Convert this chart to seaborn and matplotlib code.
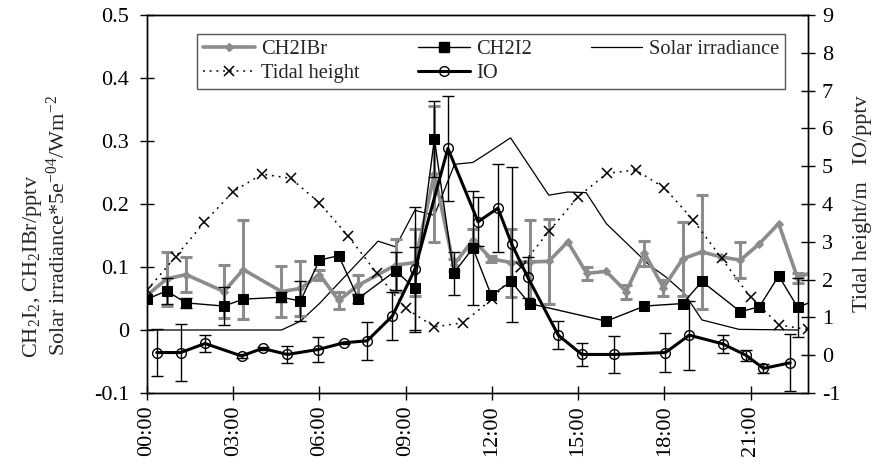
import numpy as np
import pandas as pd
import matplotlib
matplotlib.use("Agg")
import matplotlib.pyplot as plt
import seaborn as sns
from matplotlib.lines import Line2D

# ---------------- data (hours of day) ----------------
ch2ibr_t = [0, 0.68, 1.36, 2.68, 3.35, 4.68, 5.34, 6.0, 6.67, 7.35, 8.65, 9.32, 10.0, 10.67,
            11.34, 11.98, 12.67, 13.31, 13.98, 14.64, 15.3, 15.98, 16.67, 17.31, 17.97, 18.64,
            19.31, 19.97, 20.65, 21.31, 21.98, 22.64, 23.3]
ch2ibr_v = [0.055, 0.081, 0.088, 0.061, 0.096, 0.061, 0.066, 0.088, 0.047, 0.071, 0.103, 0.107,
            0.248, 0.103, 0.143, 0.113, 0.107, 0.108, 0.109, 0.140, 0.090, 0.093, 0.061, 0.122,
            0.067, 0.113, 0.124, 0.116, 0.111, 0.137, 0.169, 0.082, 0.096]
ch2ibr_e = [0.0, 0.043, 0.028, 0.042, 0.079, 0.040, 0.044, 0.008, 0.013, 0.016, 0.042, 0.053,
            0.108, 0.010, 0.017, 0.005, 0.054, 0.067, 0.067, 0.0, 0.010, 0.0, 0.011, 0.020,
            0.013, 0.059, 0.090, 0.0, 0.028, 0.0, 0.0, 0.008, 0.0]

ch2i2_t = [0, 0.68, 1.36, 2.68, 3.35, 4.68, 5.34, 6.0, 6.67, 7.35, 8.65, 9.32, 10.0, 10.67,
           11.34, 11.98, 12.67, 13.31, 15.98, 17.31, 18.64, 19.31, 20.65, 21.31, 21.98, 22.64, 23.3]
ch2i2_v = [0.049, 0.062, 0.043, 0.038, 0.049, 0.052, 0.046, 0.111, 0.118, 0.050, 0.094, 0.066,
           0.303, 0.090, 0.130, 0.055, 0.077, 0.042, 0.014, 0.038, 0.042, 0.077, 0.029, 0.037,
           0.086, 0.036, 0.048]
ch2i2_e = [0.0, 0.020, 0.008, 0.030, 0.0, 0.008, 0.032, 0.0, 0.0, 0.007, 0.030, 0.066,
           0.060, 0.034, 0.090, 0.0, 0.0, 0.0, 0.0, 0.0, 0.0, 0.0, 0.0, 0.0, 0.0, 0.047, 0.0]

solar_t = [0, 4.68, 5.34, 6.0, 8.04, 8.65, 9.32, 10.0, 10.7, 11.34, 11.92, 12.65, 13.98, 14.64,
           15.28, 15.98, 17.48, 18.06, 18.7, 19.31, 20.6, 22.64]
solar_v = [0, 0, 0.014, 0.042, 0.141, 0.132, 0.190, 0.182, 0.263, 0.266, 0.283, 0.305, 0.214,
           0.219, 0.218, 0.169, 0.103, 0.084, 0.058, 0.016, 0.001, 0]

tide_t = list(range(24))
tide_v = [1.72, 2.61, 3.52, 4.33, 4.79, 4.68, 4.03, 3.15, 2.17, 1.24, 0.75, 0.86,
          1.48, 2.34, 3.29, 4.19, 4.81, 4.90, 4.43, 3.58, 2.56, 1.53, 0.80, 0.68]

io_t = [0.34, 1.17, 2.02, 3.29, 4.02, 4.88, 5.95, 6.86, 7.66, 8.54, 9.32, 10.47, 11.52, 12.21,
        12.69, 13.25, 14.31, 15.13, 16.26, 18.04, 18.87, 20.03, 20.84, 21.45, 22.38]
io_v = [0.07, 0.07, 0.31, -0.02, 0.18, 0.02, 0.15, 0.33, 0.38, 1.04, 2.27, 5.47, 3.53, 3.89,
        2.94, 2.06, 0.53, 0.02, 0.02, 0.07, 0.53, 0.30, 0.0, -0.35, -0.20]
io_e = [0.62, 0.75, 0.23, 0.05, 0.03, 0.23, 0.33, 0.03, 0.50, 0.64, 1.66, 1.39, 0.65, 1.16,
        2.05, 0.55, 0.37, 0.30, 0.50, 0.52, 0.91, 0.24, 0.15, 0.13, 0.76]

x_ticks = [0, 3, 6, 9, 12, 15, 18, 21]
x_labels = ["00:00", "03:00", "06:00", "09:00", "12:00", "15:00", "18:00", "21:00"]
yl_ticks = [-0.1, 0, 0.1, 0.2, 0.3, 0.4, 0.5]
yl_labels = ["-0.1", "0", "0.1", "0.2", "0.3", "0.4", "0.5"]
yr_ticks = list(range(-1, 10))

# ---------------- style ----------------
sns.set_theme(style="white")
plt.rcParams["font.family"] = ["Liberation Serif", "DejaVu Serif"]
plt.rcParams["mathtext.fontset"] = "custom"
plt.rcParams["mathtext.rm"] = "Liberation Serif"
plt.rcParams["mathtext.it"] = "Liberation Serif"
plt.rcParams["mathtext.default"] = "regular"
plt.rcParams["axes.unicode_minus"] = False

FS_TICK = 16
FS_LAB = 16
FS_LEG = 14.8
GRAY = "#8c8c8c"
TIDE_LS = (0, (1.2, 3.2))

fig = plt.figure(figsize=(8.8, 4.73), dpi=100)
ax = fig.add_axes([147 / 880, 1 - 393 / 473, (808 - 147) / 880, (393 - 15) / 473])
ax2 = ax.twinx()


def errbars(axis, t, v, e, color, lw, zo):
    t = np.asarray(t); v = np.asarray(v); e = np.asarray(e)
    m = e > 0
    axis.errorbar(t[m], v[m], yerr=e[m], fmt="none", ecolor=color, elinewidth=lw,
                  capsize=4, capthick=lw, zorder=zo)


# left axis series
sns.lineplot(data=pd.DataFrame({"t": solar_t, "v": solar_v}), x="t", y="v", ax=ax,
             color="black", lw=0.9, estimator=None, sort=False, zorder=2)
errbars(ax, ch2ibr_t, ch2ibr_v, ch2ibr_e, GRAY, 2.2, 3)
sns.lineplot(data=pd.DataFrame({"t": ch2ibr_t, "v": ch2ibr_v}), x="t", y="v", ax=ax,
             color=GRAY, lw=2.6, marker="D", markersize=4, markeredgecolor=GRAY,
             estimator=None, sort=False, zorder=3)
errbars(ax, ch2i2_t, ch2i2_v, ch2i2_e, "black", 1.0, 4)
sns.lineplot(data=pd.DataFrame({"t": ch2i2_t, "v": ch2i2_v}), x="t", y="v", ax=ax,
             color="black", lw=1.0, marker="s", markersize=7, markeredgecolor="black",
             estimator=None, sort=False, zorder=4)

# right axis series
sns.lineplot(data=pd.DataFrame({"t": tide_t, "v": tide_v}), x="t", y="v", ax=ax2,
             color="black", lw=1.1, linestyle=TIDE_LS, marker="x", markersize=7,
             markeredgecolor="black", markeredgewidth=1.1,
             estimator=None, sort=False, zorder=2)
errbars(ax2, io_t, io_v, io_e, "black", 1.0, 3)
sns.lineplot(data=pd.DataFrame({"t": io_t, "v": io_v}), x="t", y="v", ax=ax2,
             color="black", lw=2.2, marker="o", markersize=7, markerfacecolor="none",
             markeredgecolor="black", markeredgewidth=1.0,
             estimator=None, sort=False, zorder=4)

# axes
ax.set_xlim(0, 23)
ax.set_ylim(-0.1, 0.5)
ax2.set_ylim(-1, 9)
ax.set_xticks(x_ticks)
ax.set_xticklabels(x_labels, rotation=90, fontsize=FS_TICK)
ax.set_yticks(yl_ticks)
ax.set_yticklabels(yl_labels, fontsize=FS_TICK)
ax2.set_yticks(yr_ticks)
ax2.set_yticklabels([str(v) for v in yr_ticks], fontsize=FS_TICK)
ax.set_xlabel("")
ax.set_ylabel("")
ax2.set_ylabel("")
for a in (ax, ax2):
    for s in a.spines.values():
        s.set_color("black")
        s.set_linewidth(1.0)
ax.tick_params(axis="x", direction="inout", length=10, width=1, color="black",
               bottom=True, pad=4, labelcolor="black")
ax.tick_params(axis="y", direction="inout", length=10, width=1, color="black",
               left=True, pad=8, labelcolor="black")
ax2.tick_params(axis="y", direction="inout", length=10, width=1, color="black",
                right=True, pad=5, labelcolor="black")
ax.grid(False)
ax2.grid(False)

# labels
fig.text(33 / 880, 1 - 358 / 473, "CH$_2$I$_2$, CH$_2$IBr/pptv", rotation=90,
         ha="center", va="bottom", fontsize=FS_LAB)
fig.text(58 / 880, 1 - 356 / 473, "Solar irradiance*5e$^{-04}$/Wm$^{-2}$", rotation=90,
         ha="center", va="bottom", fontsize=FS_LAB)
fig.text(862 / 880, 1 - 204 / 473, "Tidal height/m   IO/pptv", rotation=90,
         ha="center", va="center", fontsize=FS_LAB)

# legend
handles = [
    Line2D([], [], color=GRAY, lw=2.6, marker="D", markersize=4, markeredgecolor=GRAY),
    Line2D([], [], color="black", lw=1.1, linestyle=TIDE_LS, marker="x", markersize=7,
           markeredgewidth=1.1),
    Line2D([], [], color="black", lw=1.0, marker="s", markersize=7),
    Line2D([], [], color="black", lw=2.2, marker="o", markersize=7, markerfacecolor="none"),
    Line2D([], [], color="black", lw=0.9),
]
labels = ["CH2IBr", "Tidal height", "CH2I2", "IO", "Solar irradiance"]
leg = ax2.legend(handles, labels, ncol=3, loc="lower left", mode="expand",
                 bbox_to_anchor=(197 / 880, 1 - 89 / 473, (785 - 197) / 880, 62 / 473),
                 bbox_transform=fig.transFigure, fontsize=FS_LEG, frameon=True, fancybox=False,
                 framealpha=1, edgecolor="#555555", handlelength=2.5, borderaxespad=0,
                 borderpad=0.3, labelspacing=0.2, handletextpad=0.3)
leg.get_frame().set_linewidth(1.0)
leg.set_zorder(10)

fig.savefig("out.png", dpi=100)
